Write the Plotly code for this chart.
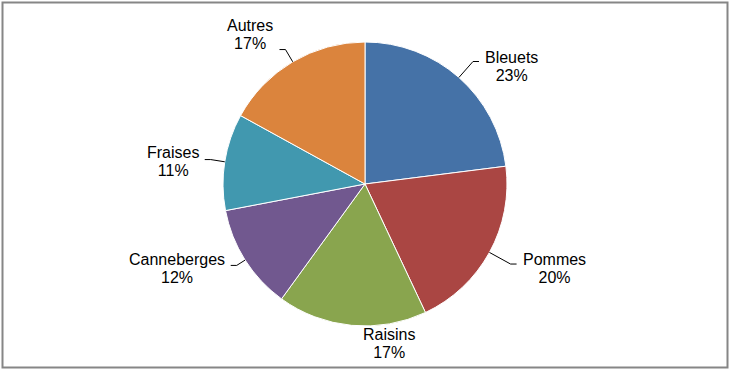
import math
import plotly.graph_objects as go

categories = ["Bleuets", "Pommes", "Raisins", "Canneberges", "Fraises", "Autres"]
values = [23, 20, 17, 12, 11, 17]
colors = ["#4572A7", "#AA4643", "#89A54E", "#71588F", "#4198AF", "#DB843D"]

# layout / style settings (pixels)
W, H = 732, 372
CX, CY, R = 365, 184, 142
label_ratio = [1.15, 1.17, 1.13, 1.07, 1.1, 1.1]     # elbow radius factor
label_dy = [5, 4, 0, 3, 2, -15]                      # text centre offset vs elbow
label_dx = [0, 0, 39, 0, 0, 0]
has_leader = [True, True, False, True, True, True]
STUB, GAP = 6, 3
FS = 16
LINE = 18

# Arial-like advance widths (per 1000 em) for width estimates
CW = {"B": 667, "l": 222, "e": 556, "u": 556, "t": 278, "s": 500, "P": 667, "o": 556,
      "m": 833, "R": 722, "a": 556, "i": 222, "n": 556, "C": 722, "b": 556, "r": 333,
      "g": 556, "F": 611, "A": 667, "%": 889}

def text_w(s):
    return sum(CW.get(c, 556) for c in s) * FS / 1000

def px(x):
    return x / W

def py(y):
    return 1 - y / H

fig = go.Figure()
fig.add_trace(go.Pie(
    labels=categories, values=values, sort=False, direction="clockwise",
    rotation=0, textinfo="none", hoverinfo="label+percent",
    marker=dict(colors=colors, line=dict(color="white", width=1)),
    domain=dict(x=[px(CX - R), px(CX + R)], y=[py(CY + R), py(CY - R)]),
    showlegend=False,
))

font = dict(family="Liberation Sans, Arial", size=FS, color="black")
total = sum(values)
cum = 0
annotations = []
shapes = []
for i, (cat, v) in enumerate(zip(categories, values)):
    mid = (cum + v / 2) / total * 2 * math.pi
    cum += v
    sx, sy = CX + R * math.sin(mid), CY - R * math.cos(mid)
    ex, ey = CX + R * label_ratio[i] * math.sin(mid), CY - R * label_ratio[i] * math.cos(mid)
    pct = f"{round(v / total * 100)}%"
    right = math.sin(mid) >= 0
    bw = max(text_w(cat), text_w(pct)) + 4
    yc = ey + label_dy[i]
    if has_leader[i]:
        tx = ex + STUB if right else ex - STUB
        shapes.append(dict(type="path", xref="paper", yref="paper",
                           path=f"M {px(sx)},{py(sy)} L {px(ex)},{py(ey)} L {px(tx)},{py(ey)}",
                           line=dict(color="black", width=1)))
        ax = tx + GAP if right else tx - GAP
        xanchor = "left" if right else "right"
    else:
        ax = ex + label_dx[i]
        xanchor = "center"
    for line_txt, ly in ((cat, yc - LINE / 2), (pct, yc + LINE / 2)):
        annotations.append(dict(x=px(ax), y=py(ly), xref="paper", yref="paper",
                                text=line_txt, showarrow=False, align="center", width=bw,
                                xanchor=xanchor, yanchor="middle", borderpad=0, font=font))

shapes.append(dict(type="rect", xref="paper", yref="paper",
                   x0=px(2.5), x1=px(727.5), y0=py(367.5), y1=py(2.5),
                   line=dict(color="#868686", width=2)))

fig.update_layout(
    width=W, height=H, margin=dict(l=0, r=0, t=0, b=0),
    paper_bgcolor="white", plot_bgcolor="white",
    annotations=annotations, shapes=shapes,
)
fig.write_html("out.html")
